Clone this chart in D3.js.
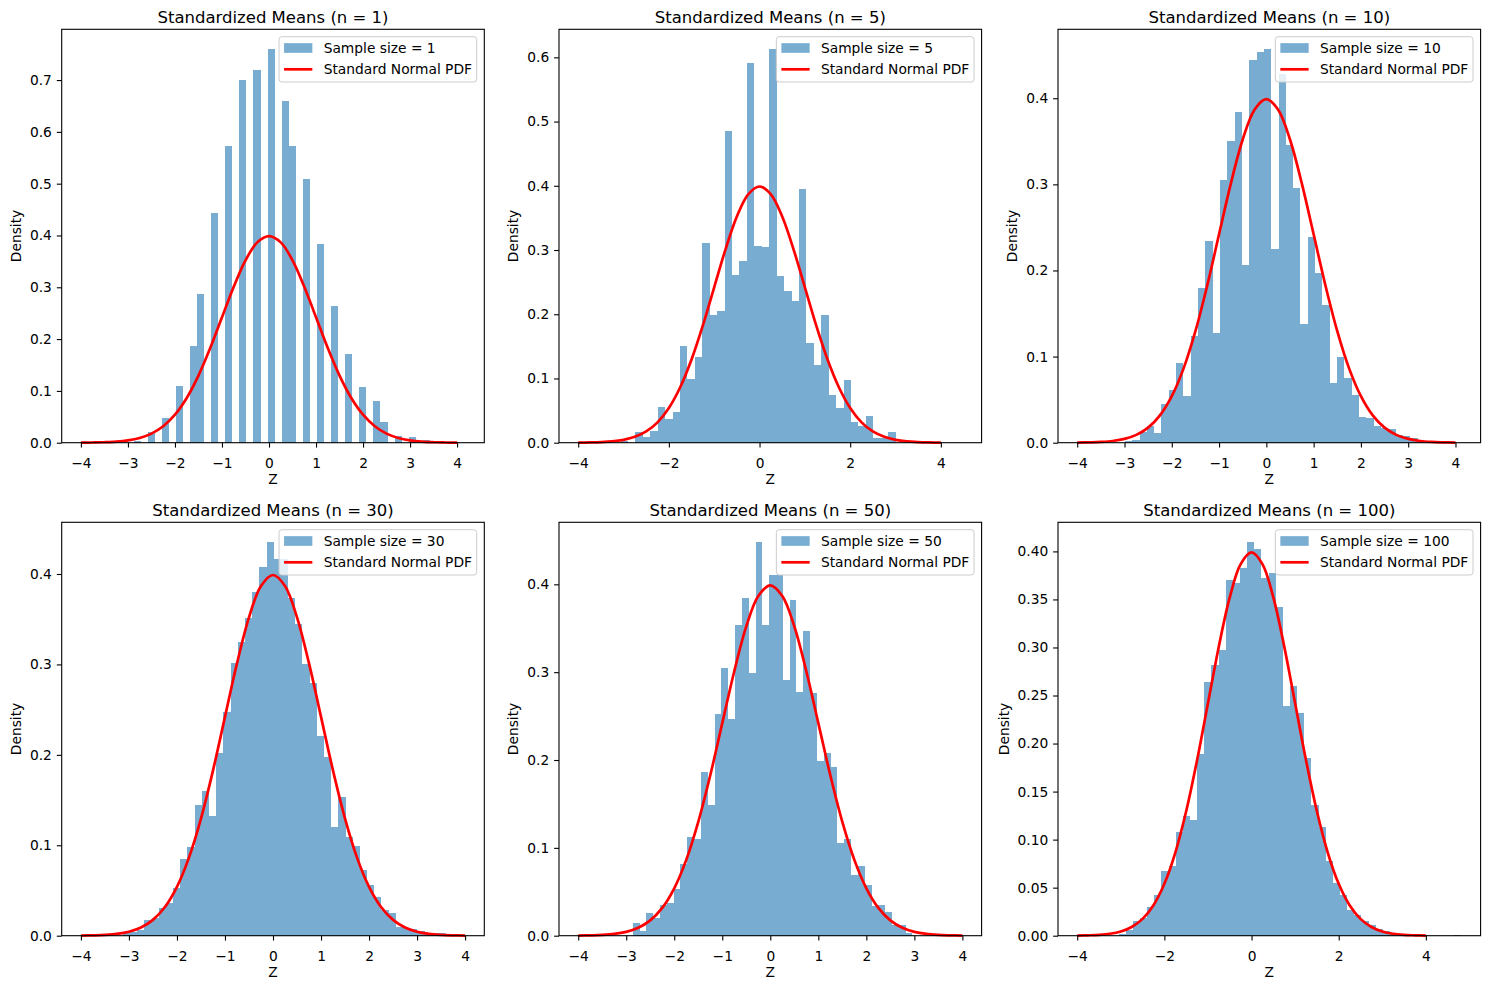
<!DOCTYPE html>
<html><head><meta charset="utf-8">
<script src="https://cdn.jsdelivr.net/npm/d3@7"></script>
<style>
body{margin:0;background:#fff}
svg{display:block}
text{font-family:"DejaVu Sans",sans-serif;fill:#000}
</style>
</head><body>
<svg id="chart" width="1489" height="989"></svg>
<script>
// ---------------- data ----------------
const sampleSizes = [1, 5, 10, 30, 50, 100];
const binStarts = [-3.33, -3.72, -3.61, -3.127, -3.150, -3.38];
const binWidths = [0.150, 0.1639, 0.1547, 0.1496, 0.1421, 0.1639];

const heightsN1 = [0,0,0,0.004,0,0.021,0,0.048,0,0.109,0,0.187,0.287,0,0.444,0,0.573,0,0.700,0,0.720,0,0.760,0,0.660,0.573,0,0.509,0,0.384,0,0.264,0,0.171,0,0.108,0,0.080,0.039,0,0.013,0,0.011,0,0.006,0,0,0,0,0];
const heightsN5 = [0,0,0,0,0.002,0,0.016,0.0083,0.018,0.0555,0.037,0.048,0.150,0.099,0.133,0.311,0.199,0.205,0.485,0.261,0.283,0.591,0.306,0.305,0.613,0.259,0.236,0.221,0.395,0.155,0.121,0.199,0.074,0.054,0.0976,0.032,0.026,0.0415,0.0073,0.0073,0.0166,0,0,0,0,0,0,0,0,0];
const heightsN10 = [0,0,0,0,0.0015,0.003,0.0128,0.0194,0.0112,0.0449,0.0612,0.0925,0.0546,0.1239,0.1796,0.2342,0.1274,0.305,0.350,0.384,0.2067,0.4444,0.4533,0.4572,0.2249,0.428,0.3457,0.2958,0.1378,0.2389,0.1971,0.1599,0.0693,0.0991,0.0751,0.0557,0.0298,0.0286,0.0194,0.017,0.0163,0.0089,0.0077,0.0058,0.002,0,0,0,0,0];
const heightsN30 = [0.003,0.0037,0.006,0.0173,0.0199,0.0306,0.0361,0.0527,0.0848,0.0977,0.1445,0.1597,0.1324,0.2017,0.2474,0.3012,0.3244,0.3513,0.3801,0.4077,0.4354,0.4166,0.4166,0.3731,0.3447,0.3008,0.2798,0.2208,0.1976,0.1202,0.1534,0.1087,0.0988,0.0722,0.0556,0.0428,0.0287,0.0251,0.0092,0.0085,0.0074,0.0048,0.003,0.0026,0.0026];
const heightsN50 = [0,0,0.0144,0.0057,0.0258,0.0205,0.0349,0.0372,0.0535,0.0816,0.1123,0.1101,0.1863,0.1491,0.2524,0.3047,0.2467,0.3537,0.3844,0.2991,0.4482,0.3537,0.4106,0.4106,0.2911,0.3822,0.2774,0.3465,0.2763,0.1989,0.2076,0.192,0.1055,0.1101,0.0691,0.0789,0.0577,0.0334,0.0345,0.0266,0.0121,0.0121,0.003];
const heightsN100 = [0,0,0.0014,0.0056,0.0156,0.0184,0.0298,0.0423,0.0670,0.0729,0.1079,0.1246,0.1204,0.1891,0.2641,0.2817,0.2974,0.3702,0.3671,0.3827,0.4098,0.4025,0.3723,0.3775,0.3421,0.2391,0.2595,0.2318,0.1849,0.1364,0.1131,0.0774,0.0548,0.0423,0.0271,0.0215,0.0156,0.0115,0.0069,0.0045,0.002,0.001,0,0,0,0,0,0,0,0.0012];

// standard normal PDF curve
const pdfX = [-4,-3.75,-3.5,-3.25,-3,-2.75,-2.5,-2.25,-2,-1.75,-1.5,-1.25,-1,-0.75,-0.5,-0.25,0,0.25,0.5,0.75,1,1.25,1.5,1.75,2,2.25,2.5,2.75,3,3.25,3.5,3.75,4];
const pdfY = [0.0001,0.0004,0.0009,0.0020,0.0044,0.0091,0.0175,0.0317,0.0540,0.0863,0.1295,0.1826,0.2420,0.3011,0.3521,0.3867,0.3989,0.3867,0.3521,0.3011,0.2420,0.1826,0.1295,0.0863,0.0540,0.0317,0.0175,0.0091,0.0044,0.0020,0.0009,0.0004,0.0001];

const xTicksStep1 = [-4,-3,-2,-1,0,1,2,3,4];
const xTicksStep2 = [-4,-2,0,2,4];
const yTicksN1 = [0,0.1,0.2,0.3,0.4,0.5,0.6,0.7];
const yTicksN5 = [0,0.1,0.2,0.3,0.4,0.5,0.6];
const yTicksN10 = [0,0.1,0.2,0.3,0.4];
const yTicksN100 = [0,0.05,0.10,0.15,0.20,0.25,0.30,0.35,0.40];

const titleText = n => `Standardized Means (n = ${n})`;
const legendHistText = n => `Sample size = ${n}`;
const legendLineText = "Standard Normal PDF";
const xLabelText = "Z";
const yLabelText = "Density";

// ---------------- layout ----------------
const panels = [
  {n: sampleSizes[0], h: heightsN1,  start: binStarts[0], w: binWidths[0], xt: xTicksStep1, yt: yTicksN1,  yd: 1, left: 61.7, top: 29.3},
  {n: sampleSizes[1], h: heightsN5,  start: binStarts[1], w: binWidths[1], xt: xTicksStep2, yt: yTicksN5,  yd: 1, left: 559,  top: 29.3},
  {n: sampleSizes[2], h: heightsN10, start: binStarts[2], w: binWidths[2], xt: xTicksStep1, yt: yTicksN10, yd: 1, left: 1058, top: 29.3},
  {n: sampleSizes[3], h: heightsN30, start: binStarts[3], w: binWidths[3], xt: xTicksStep1, yt: yTicksN10, yd: 1, left: 61.7, top: 522.3},
  {n: sampleSizes[4], h: heightsN50, start: binStarts[4], w: binWidths[4], xt: xTicksStep1, yt: yTicksN10, yd: 1, left: 559,  top: 522.3},
  {n: sampleSizes[5], h: heightsN100,start: binStarts[5], w: binWidths[5], xt: xTicksStep2, yt: yTicksN100,yd: 2, left: 1058, top: 522.3}
];
const AW = 422.6, AH = 413.4;
const FS = 13.8, TFS = 16.5;
const TICK = 4.9, PAD = 4.9, LW = 1.1;
const barColor = "#1f77b4";

const svg = d3.select("#chart");
const fmtMinus = s => s.replace("-", "\u2212");

panels.forEach(p => {
  const g = svg.append("g").attr("transform", `translate(${p.left},${p.top})`);
  const lo = Math.min(-4, p.start), hi = Math.max(4, p.start + p.h.length * p.w);
  const padX = 0.05 * (hi - lo);
  const x = d3.scaleLinear().domain([lo - padX, hi + padX]).range([0, AW]);
  const y = d3.scaleLinear().domain([0, 1.05 * d3.max(p.h)]).range([AH, 0]);

  const bins = p.h.map((v, i) => ({x0: p.start + i * p.w, x1: p.start + (i + 1) * p.w, v})).filter(b => b.v > 0);
  g.append("g").attr("fill", barColor).attr("opacity", 0.6)
    .selectAll("rect").data(bins).join("rect")
    .attr("shape-rendering", "crispEdges")
    .attr("x", b => x(b.x0)).attr("width", b => x(b.x1) - x(b.x0))
    .attr("y", b => y(b.v)).attr("height", b => y(0) - y(b.v));

  const line = d3.line().x((d, i) => x(pdfX[i])).y(d => y(d)).curve(d3.curveCatmullRom.alpha(0.5));
  g.append("path").datum(pdfY).attr("d", line).attr("fill", "none")
    .attr("stroke", "#ff0000").attr("stroke-width", 2.7).attr("stroke-linejoin", "round");

  // axes
  const xAxis = d3.axisBottom(x).tickValues(p.xt).tickSize(TICK).tickPadding(PAD)
    .tickFormat(d => fmtMinus(d3.format("d")(d)));
  const gx = g.append("g").attr("transform", `translate(0,${AH})`).call(xAxis);
  const yAxis = d3.axisLeft(y).tickValues(p.yt).tickSize(TICK).tickPadding(PAD)
    .tickFormat(d3.format(`.${p.yd}f`));
  const gy = g.append("g").call(yAxis);
  [gx, gy].forEach(ax => {
    ax.select(".domain").remove();
    ax.selectAll(".tick line").attr("stroke", "#000").attr("stroke-width", LW);
    ax.selectAll(".tick text").attr("font-size", FS).attr("font-family", "DejaVu Sans").attr("fill", "#000");
  });
  gx.selectAll(".tick text").attr("dy", "1.1em");

  // spines
  g.append("rect").attr("x", 0).attr("y", 0).attr("width", AW).attr("height", AH)
    .attr("fill", "none").attr("stroke", "#000").attr("stroke-width", LW);

  // title
  g.append("text").attr("x", AW / 2).attr("y", -6.5).attr("text-anchor", "middle")
    .attr("font-size", TFS).text(titleText(p.n));

  // axis labels
  let maxW = 0;
  gy.selectAll(".tick text").each(function() { maxW = Math.max(maxW, this.getComputedTextLength()); });
  const yl = -(TICK + PAD + maxW + 5.6 + 3.3);
  g.append("text").attr("transform", `translate(${yl},${AH / 2}) rotate(-90)`)
    .attr("text-anchor", "middle").attr("font-size", FS).text(yLabelText);
  g.append("text").attr("x", AW / 2).attr("y", AH + 41.5)
    .attr("text-anchor", "middle").attr("font-size", FS).text(xLabelText);

  // legend
  const lg = g.append("g");
  const t1 = lg.append("text").attr("font-size", FS).text(legendHistText(p.n));
  const t2 = lg.append("text").attr("font-size", FS).text(legendLineText);
  const tw = Math.max(t1.node().getComputedTextLength(), t2.node().getComputedTextLength());
  const boxW = 5 + 28.3 + 11.3 + tw + 4.7;
  const bx = AW - 7.6 - boxW, by = 7.4, bh = 45.3;
  lg.insert("rect", "text").attr("x", bx).attr("y", by).attr("width", boxW).attr("height", bh)
    .attr("rx", 2.8).attr("fill", "#fff").attr("fill-opacity", 0.8)
    .attr("stroke", "#cccccc").attr("stroke-width", 1);
  const r1 = by + 11.3, r2 = by + 32.6;
  lg.insert("rect", "text").attr("x", bx + 5).attr("y", r1 - 4.85).attr("width", 28.3).attr("height", 9.7)
    .attr("fill", barColor).attr("opacity", 0.6);
  lg.append("line").attr("x1", bx + 5).attr("x2", bx + 33.3).attr("y1", r2).attr("y2", r2)
    .attr("stroke", "#ff0000").attr("stroke-width", 2.7);
  t1.attr("x", bx + 44.6).attr("y", r1).attr("dy", "0.36em");
  t2.attr("x", bx + 44.6).attr("y", r2).attr("dy", "0.36em");
});
</script>
</body></html>
